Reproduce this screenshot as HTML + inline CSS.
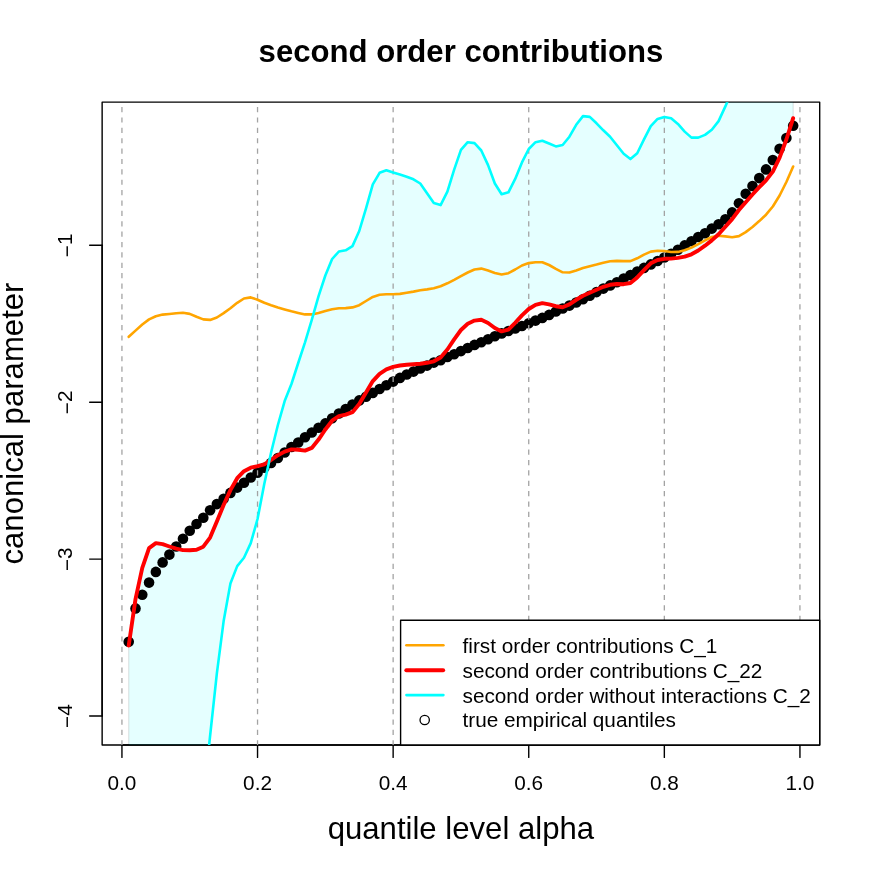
<!DOCTYPE html>
<html><head><meta charset="utf-8"><title>second order contributions</title>
<style>
html,body{margin:0;padding:0;background:#fff;}
svg{display:block;will-change:transform;}
text{font-family:"Liberation Sans",sans-serif;fill:#000;}
</style></head><body>
<svg width="872" height="872" viewBox="0 0 872 872">
<rect width="872" height="872" fill="#fff"/>
<defs><clipPath id="pc"><rect x="102.14" y="102.14" width="717.56" height="642.80"/></clipPath></defs>
<rect x="102.14" y="102.14" width="717.56" height="642.80" fill="none" stroke="#000" stroke-width="1.4" stroke-linejoin="round"/>
<g stroke="#000" stroke-width="1.4" stroke-linecap="round">
<line x1="121.94" y1="744.94" x2="799.94" y2="744.94"/><line x1="121.94" y1="744.94" x2="121.94" y2="757.40"/><line x1="257.54" y1="744.94" x2="257.54" y2="757.40"/><line x1="393.14" y1="744.94" x2="393.14" y2="757.40"/><line x1="528.74" y1="744.94" x2="528.74" y2="757.40"/><line x1="664.34" y1="744.94" x2="664.34" y2="757.40"/><line x1="799.94" y1="744.94" x2="799.94" y2="757.40"/>
<line x1="102.14" y1="716.0" x2="102.14" y2="245.3"/><line x1="102.14" y1="245.3" x2="89.68" y2="245.3"/><line x1="102.14" y1="402.2" x2="89.68" y2="402.2"/><line x1="102.14" y1="559.1" x2="89.68" y2="559.1"/><line x1="102.14" y1="716.0" x2="89.68" y2="716.0"/>
</g>
<g clip-path="url(#pc)">
<polygon points="128.72,645.5 135.50,599.1 142.28,567.9 149.06,548.1 155.84,543.1 162.62,544.2 169.40,546.5 176.18,548.7 182.96,550.1 189.74,550.3 196.52,549.8 203.30,546.7 210.08,537.6 216.86,521.5 223.64,505.0 230.42,490.1 237.20,478.2 243.98,471.2 250.76,467.7 257.54,466.2 264.32,464.4 271.10,459.8 277.88,455.2 284.66,451.6 291.44,449.4 298.22,449.7 305.00,450.6 311.78,447.9 318.56,439.6 325.34,429.5 332.12,420.7 338.90,416.1 345.68,414.7 352.46,412.2 359.24,404.0 366.02,392.5 372.80,381.1 379.58,373.8 386.36,369.4 393.14,366.9 399.92,365.5 406.70,364.8 413.48,364.2 420.26,363.7 427.04,362.8 433.82,361.3 440.60,357.5 447.38,349.5 454.16,339.3 460.94,330.0 467.72,323.7 474.50,320.6 481.28,319.8 488.06,323.0 494.84,328.0 501.62,331.4 508.40,329.7 515.18,322.8 521.96,315.4 528.74,309.0 535.52,304.8 542.30,303.1 549.08,304.4 555.86,306.2 562.64,307.2 569.42,304.4 576.20,299.8 582.98,295.8 589.76,292.7 596.54,289.8 603.32,286.8 610.10,284.8 616.88,284.0 623.66,284.2 630.44,283.0 637.22,277.4 644.00,270.2 650.78,263.3 657.56,260.0 664.34,258.8 671.12,258.6 677.90,257.9 684.68,256.7 691.46,254.3 698.24,250.5 705.02,245.7 711.80,240.4 718.58,234.2 725.36,226.8 732.14,219.1 738.92,210.0 745.70,202.3 752.48,194.5 759.26,187.2 766.04,180.3 772.82,171.6 779.60,157.6 786.38,139.5 793.16,118.2 793.16,-50.0 786.38,-35.0 779.60,-20.0 772.82,-5.0 766.04,10.0 759.26,25.0 752.48,40.0 745.70,55.0 738.92,72.0 732.14,90.5 725.36,106.4 718.58,121.1 711.80,129.7 705.02,134.9 698.24,137.6 691.46,137.6 684.68,131.6 677.90,123.9 671.12,118.3 664.34,116.9 657.56,118.9 650.78,126.1 644.00,139.4 637.22,153.2 630.44,159.1 623.66,153.8 616.88,145.3 610.10,136.7 603.32,130.3 596.54,123.3 589.76,116.9 582.98,116.1 576.20,124.8 569.42,136.7 562.64,145.0 555.86,146.4 549.08,143.5 542.30,140.7 535.52,142.2 528.74,149.0 521.96,162.4 515.18,178.9 508.40,192.3 501.62,194.3 494.84,183.5 488.06,165.1 481.28,150.5 474.50,143.1 467.72,142.2 460.94,149.9 454.16,169.7 447.38,191.7 440.60,205.1 433.82,203.1 427.04,193.2 420.26,183.5 413.48,179.3 406.70,176.7 399.92,174.5 393.14,172.5 386.36,170.3 379.58,172.8 372.80,184.4 366.02,208.3 359.24,231.0 352.46,246.1 345.68,250.3 338.90,251.5 332.12,259.0 325.34,275.5 318.56,296.1 311.78,319.9 305.00,342.3 298.22,363.0 291.44,384.0 284.66,401.1 277.88,425.0 271.10,452.5 264.32,483.7 257.54,519.0 250.76,543.1 243.98,557.8 237.20,566.1 230.42,583.5 223.64,621.1 216.86,673.4 210.08,736.0 203.30,800.0 196.52,860.0 189.74,924.0 182.96,988.0 176.18,1052.0 169.40,1116.0 162.62,1180.0 155.84,1244.0 149.06,1308.0 142.28,1372.0 135.50,1436.0 128.72,1500.0" fill="#00FFFF" fill-opacity="0.1" stroke="#000" stroke-opacity="0.1" stroke-width="1.2976" stroke-linejoin="round"/>
<g fill="#000"><circle cx="128.72" cy="641.8" r="5.3"/><circle cx="135.50" cy="608.4" r="5.3"/><circle cx="142.28" cy="594.7" r="5.3"/><circle cx="149.06" cy="582.6" r="5.3"/><circle cx="155.84" cy="571.9" r="5.3"/><circle cx="162.62" cy="562.4" r="5.3"/><circle cx="169.40" cy="554.6" r="5.3"/><circle cx="176.18" cy="546.5" r="5.3"/><circle cx="182.96" cy="538.8" r="5.3"/><circle cx="189.74" cy="530.7" r="5.3"/><circle cx="196.52" cy="524.0" r="5.3"/><circle cx="203.30" cy="517.8" r="5.3"/><circle cx="210.08" cy="510.3" r="5.3"/><circle cx="216.86" cy="504.1" r="5.3"/><circle cx="223.64" cy="498.8" r="5.3"/><circle cx="230.42" cy="492.9" r="5.3"/><circle cx="237.20" cy="487.6" r="5.3"/><circle cx="243.98" cy="482.7" r="5.3"/><circle cx="250.76" cy="477.5" r="5.3"/><circle cx="257.54" cy="472.7" r="5.3"/><circle cx="264.32" cy="467.7" r="5.3"/><circle cx="271.10" cy="462.9" r="5.3"/><circle cx="277.88" cy="458.0" r="5.3"/><circle cx="284.66" cy="452.5" r="5.3"/><circle cx="291.44" cy="447.0" r="5.3"/><circle cx="298.22" cy="442.5" r="5.3"/><circle cx="305.00" cy="437.3" r="5.3"/><circle cx="311.78" cy="432.5" r="5.3"/><circle cx="318.56" cy="427.7" r="5.3"/><circle cx="325.34" cy="423.4" r="5.3"/><circle cx="332.12" cy="418.3" r="5.3"/><circle cx="338.90" cy="413.5" r="5.3"/><circle cx="345.68" cy="409.0" r="5.3"/><circle cx="352.46" cy="404.6" r="5.3"/><circle cx="359.24" cy="400.4" r="5.3"/><circle cx="366.02" cy="396.7" r="5.3"/><circle cx="372.80" cy="392.9" r="5.3"/><circle cx="379.58" cy="389.0" r="5.3"/><circle cx="386.36" cy="385.2" r="5.3"/><circle cx="393.14" cy="381.6" r="5.3"/><circle cx="399.92" cy="377.9" r="5.3"/><circle cx="406.70" cy="374.5" r="5.3"/><circle cx="413.48" cy="371.6" r="5.3"/><circle cx="420.26" cy="368.4" r="5.3"/><circle cx="427.04" cy="365.6" r="5.3"/><circle cx="433.82" cy="362.6" r="5.3"/><circle cx="440.60" cy="360.2" r="5.3"/><circle cx="447.38" cy="357.0" r="5.3"/><circle cx="454.16" cy="354.2" r="5.3"/><circle cx="460.94" cy="351.1" r="5.3"/><circle cx="467.72" cy="348.0" r="5.3"/><circle cx="474.50" cy="344.9" r="5.3"/><circle cx="481.28" cy="342.2" r="5.3"/><circle cx="488.06" cy="339.2" r="5.3"/><circle cx="494.84" cy="336.3" r="5.3"/><circle cx="501.62" cy="333.4" r="5.3"/><circle cx="508.40" cy="331.0" r="5.3"/><circle cx="515.18" cy="328.4" r="5.3"/><circle cx="521.96" cy="326.0" r="5.3"/><circle cx="528.74" cy="323.3" r="5.3"/><circle cx="535.52" cy="320.6" r="5.3"/><circle cx="542.30" cy="317.9" r="5.3"/><circle cx="549.08" cy="314.9" r="5.3"/><circle cx="555.86" cy="311.5" r="5.3"/><circle cx="562.64" cy="308.5" r="5.3"/><circle cx="569.42" cy="305.6" r="5.3"/><circle cx="576.20" cy="302.5" r="5.3"/><circle cx="582.98" cy="299.2" r="5.3"/><circle cx="589.76" cy="295.7" r="5.3"/><circle cx="596.54" cy="292.1" r="5.3"/><circle cx="603.32" cy="288.6" r="5.3"/><circle cx="610.10" cy="285.4" r="5.3"/><circle cx="616.88" cy="282.2" r="5.3"/><circle cx="623.66" cy="278.6" r="5.3"/><circle cx="630.44" cy="275.1" r="5.3"/><circle cx="637.22" cy="271.6" r="5.3"/><circle cx="644.00" cy="267.9" r="5.3"/><circle cx="650.78" cy="264.4" r="5.3"/><circle cx="657.56" cy="261.0" r="5.3"/><circle cx="664.34" cy="257.5" r="5.3"/><circle cx="671.12" cy="253.8" r="5.3"/><circle cx="677.90" cy="249.7" r="5.3"/><circle cx="684.68" cy="245.4" r="5.3"/><circle cx="691.46" cy="241.2" r="5.3"/><circle cx="698.24" cy="237.0" r="5.3"/><circle cx="705.02" cy="233.2" r="5.3"/><circle cx="711.80" cy="228.6" r="5.3"/><circle cx="718.58" cy="224.2" r="5.3"/><circle cx="725.36" cy="219.2" r="5.3"/><circle cx="732.14" cy="212.4" r="5.3"/><circle cx="738.92" cy="203.2" r="5.3"/><circle cx="745.70" cy="193.8" r="5.3"/><circle cx="752.48" cy="186.0" r="5.3"/><circle cx="759.26" cy="178.1" r="5.3"/><circle cx="766.04" cy="169.4" r="5.3"/><circle cx="772.82" cy="160.0" r="5.3"/><circle cx="779.60" cy="148.7" r="5.3"/><circle cx="786.38" cy="138.0" r="5.3"/><circle cx="793.16" cy="125.8" r="5.3"/></g>
<g stroke="#A3A3A3" stroke-width="1.2976" stroke-dasharray="5.19 5.19" fill="none"><line x1="121.94" y1="745.39" x2="121.94" y2="102.14"/><line x1="257.54" y1="745.39" x2="257.54" y2="102.14"/><line x1="393.14" y1="745.39" x2="393.14" y2="102.14"/><line x1="528.74" y1="745.39" x2="528.74" y2="102.14"/><line x1="664.34" y1="745.39" x2="664.34" y2="102.14"/><line x1="799.94" y1="745.39" x2="799.94" y2="102.14"/></g>
<polyline points="128.72,336.8 135.50,330.6 142.28,324.5 149.06,319.4 155.84,316.2 162.62,314.6 169.40,314.0 176.18,313.3 182.96,312.8 189.74,313.9 196.52,316.8 203.30,319.4 210.08,319.9 216.86,317.5 223.64,313.1 230.42,308.3 237.20,302.8 243.98,298.5 250.76,297.4 257.54,299.7 264.32,302.8 271.10,305.2 277.88,307.4 284.66,309.4 291.44,311.3 298.22,312.9 305.00,314.4 311.78,314.4 318.56,312.9 325.34,310.9 332.12,309.3 338.90,308.2 345.68,308.1 352.46,307.4 359.24,305.2 366.02,301.0 372.80,296.9 379.58,294.8 386.36,294.3 393.14,294.3 399.92,293.9 406.70,292.7 413.48,291.6 420.26,290.3 427.04,289.4 433.82,288.3 440.60,286.2 447.38,283.3 454.16,279.8 460.94,276.1 467.72,272.5 474.50,269.5 481.28,268.6 488.06,270.6 494.84,273.0 501.62,274.5 508.40,273.2 515.18,269.5 521.96,265.5 528.74,263.1 535.52,262.2 542.30,262.3 549.08,265.0 555.86,268.9 562.64,272.3 569.42,272.5 576.20,270.5 582.98,268.1 589.76,266.2 596.54,264.6 603.32,262.8 610.10,261.3 616.88,260.9 623.66,261.1 630.44,261.1 637.22,258.3 644.00,254.6 650.78,251.6 657.56,250.7 664.34,251.0 671.12,252.0 677.90,251.9 684.68,250.3 691.46,247.6 698.24,244.1 705.02,240.4 711.80,237.0 718.58,235.8 725.36,236.4 732.14,237.3 738.92,236.1 745.70,232.1 752.48,227.0 759.26,221.1 766.04,214.7 772.82,206.5 779.60,195.5 786.38,182.0 793.16,166.5" fill="none" stroke="#FFA500" stroke-width="2.6" stroke-linejoin="round" stroke-linecap="round"/>
<polyline points="128.72,645.5 135.50,599.1 142.28,567.9 149.06,548.1 155.84,543.1 162.62,544.2 169.40,546.5 176.18,548.7 182.96,550.1 189.74,550.3 196.52,549.8 203.30,546.7 210.08,537.6 216.86,521.5 223.64,505.0 230.42,490.1 237.20,478.2 243.98,471.2 250.76,467.7 257.54,466.2 264.32,464.4 271.10,459.8 277.88,455.2 284.66,451.6 291.44,449.4 298.22,449.7 305.00,450.6 311.78,447.9 318.56,439.6 325.34,429.5 332.12,420.7 338.90,416.1 345.68,414.7 352.46,412.2 359.24,404.0 366.02,392.5 372.80,381.1 379.58,373.8 386.36,369.4 393.14,366.9 399.92,365.5 406.70,364.8 413.48,364.2 420.26,363.7 427.04,362.8 433.82,361.3 440.60,357.5 447.38,349.5 454.16,339.3 460.94,330.0 467.72,323.7 474.50,320.6 481.28,319.8 488.06,323.0 494.84,328.0 501.62,331.4 508.40,329.7 515.18,322.8 521.96,315.4 528.74,309.0 535.52,304.8 542.30,303.1 549.08,304.4 555.86,306.2 562.64,307.2 569.42,304.4 576.20,299.8 582.98,295.8 589.76,292.7 596.54,289.8 603.32,286.8 610.10,284.8 616.88,284.0 623.66,284.2 630.44,283.0 637.22,277.4 644.00,270.2 650.78,263.3 657.56,260.0 664.34,258.8 671.12,258.6 677.90,257.9 684.68,256.7 691.46,254.3 698.24,250.5 705.02,245.7 711.80,240.4 718.58,234.2 725.36,226.8 732.14,219.1 738.92,210.0 745.70,202.3 752.48,194.5 759.26,187.2 766.04,180.3 772.82,171.6 779.60,157.6 786.38,139.5 793.16,118.2" fill="none" stroke="#FF0000" stroke-width="3.9" stroke-linejoin="round" stroke-linecap="round"/>
<polyline points="128.72,1500.0 135.50,1436.0 142.28,1372.0 149.06,1308.0 155.84,1244.0 162.62,1180.0 169.40,1116.0 176.18,1052.0 182.96,988.0 189.74,924.0 196.52,860.0 203.30,800.0 210.08,736.0 216.86,673.4 223.64,621.1 230.42,583.5 237.20,566.1 243.98,557.8 250.76,543.1 257.54,519.0 264.32,483.7 271.10,452.5 277.88,425.0 284.66,401.1 291.44,384.0 298.22,363.0 305.00,342.3 311.78,319.9 318.56,296.1 325.34,275.5 332.12,259.0 338.90,251.5 345.68,250.3 352.46,246.1 359.24,231.0 366.02,208.3 372.80,184.4 379.58,172.8 386.36,170.3 393.14,172.5 399.92,174.5 406.70,176.7 413.48,179.3 420.26,183.5 427.04,193.2 433.82,203.1 440.60,205.1 447.38,191.7 454.16,169.7 460.94,149.9 467.72,142.2 474.50,143.1 481.28,150.5 488.06,165.1 494.84,183.5 501.62,194.3 508.40,192.3 515.18,178.9 521.96,162.4 528.74,149.0 535.52,142.2 542.30,140.7 549.08,143.5 555.86,146.4 562.64,145.0 569.42,136.7 576.20,124.8 582.98,116.1 589.76,116.9 596.54,123.3 603.32,130.3 610.10,136.7 616.88,145.3 623.66,153.8 630.44,159.1 637.22,153.2 644.00,139.4 650.78,126.1 657.56,118.9 664.34,116.9 671.12,118.3 677.90,123.9 684.68,131.6 691.46,137.6 698.24,137.6 705.02,134.9 711.80,129.7 718.58,121.1 725.36,106.4 732.14,90.5 738.92,72.0 745.70,55.0 752.48,40.0 759.26,25.0 766.04,10.0 772.82,-5.0 779.60,-20.0 786.38,-35.0 793.16,-50.0" fill="none" stroke="#00FFFF" stroke-width="2.6" stroke-linejoin="round" stroke-linecap="round"/>
</g>
<g font-size="20.76px"><text x="121.94" y="789.9" text-anchor="middle">0.0</text><text x="257.54" y="789.9" text-anchor="middle">0.2</text><text x="393.14" y="789.9" text-anchor="middle">0.4</text><text x="528.74" y="789.9" text-anchor="middle">0.6</text><text x="664.34" y="789.9" text-anchor="middle">0.8</text><text x="799.94" y="789.9" text-anchor="middle">1.0</text><text transform="translate(72.1,245.4) rotate(-90)" text-anchor="middle"><tspan dy="2.2">−</tspan><tspan dy="-2.2">1</tspan></text><text transform="translate(72.1,402.3) rotate(-90)" text-anchor="middle"><tspan dy="2.2">−</tspan><tspan dy="-2.2">2</tspan></text><text transform="translate(72.1,559.2) rotate(-90)" text-anchor="middle"><tspan dy="2.2">−</tspan><tspan dy="-2.2">3</tspan></text><text transform="translate(72.1,716.1) rotate(-90)" text-anchor="middle"><tspan dy="2.2">−</tspan><tspan dy="-2.2">4</tspan></text></g>
<text x="460.92" y="62.1" text-anchor="middle" font-size="31.14px" font-weight="bold">second order contributions</text>
<text x="460.92" y="839.4" text-anchor="middle" font-size="31.14px">quantile level alpha</text>
<text transform="translate(22.6,423.54) rotate(-90)" text-anchor="middle" font-size="31.14px">canonical parameter</text>
<rect x="400.6" y="620.2" width="419.10" height="124.74" fill="#fff" stroke="#000" stroke-width="1.4" stroke-linejoin="round"/>
<g fill="none" stroke-linecap="round">
<line x1="406.4" y1="645.3" x2="443.4" y2="645.3" stroke="#FFA500" stroke-width="2.6"/>
<line x1="406.3" y1="670.2" x2="443.2" y2="670.2" stroke="#FF0000" stroke-width="3.9"/>
<line x1="406.4" y1="695.1" x2="443.4" y2="695.1" stroke="#00FFFF" stroke-width="2.6"/>
<circle cx="424.7" cy="720.0" r="4.67" stroke="#000" stroke-width="1.2976"/>
</g>
<g font-size="20.76px"><text x="462.5" y="652.7">first order contributions C_1</text><text x="462.5" y="677.6">second order contributions C_22</text><text x="462.5" y="702.5">second order without interactions C_2</text><text x="462.5" y="727.4">true empirical quantiles</text></g>
</svg>
</body></html>
